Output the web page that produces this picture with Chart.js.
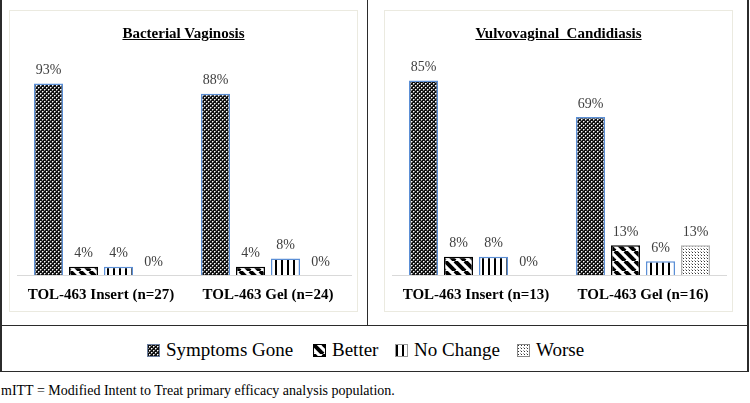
<!DOCTYPE html>
<html>
<head>
<meta charset="utf-8">
<script src="https://cdn.jsdelivr.net/npm/chart.js@4"></script>
<style>
  body { margin: 0; width: 750px; height: 403px; background: #fff; position: relative; overflow: hidden;
         font-family: "Liberation Serif", "Times New Roman", serif; }
  .line { position: absolute; background: #2b2b2b; }
  .panel { position: absolute; top: 10px; width: 347px; height: 300px; border: 1px solid #ebeae0; }
  .panel canvas { position: absolute; left: 0; top: 0; }
  .title { position: absolute; top: 14px; width: 100%; text-align: center; font-weight: bold;
           font-size: 15px; text-decoration: underline; color: #000; }
  .item { position: absolute; top: 339px; font-size: 19px; color: #000; white-space: nowrap;
          font-family: "Liberation Serif", "Times New Roman", serif; }
  .item canvas { vertical-align: -1px; margin-right: 6px; }
  #note { position: absolute; left: 1px; top: 383px; font-size: 14px; color: #000; }
</style>
</head>
<body>
<div class="line" style="left:0;top:0;width:2px;height:372px"></div>
<div class="line" style="left:747px;top:0;width:2px;height:372px"></div>
<div class="line" style="left:367px;top:0;width:1px;height:325px"></div>
<div class="line" style="left:0;top:325px;width:749px;height:1px"></div>
<div class="line" style="left:0;top:371px;width:749px;height:1px"></div>

<div class="panel" style="left:9px"><canvas id="bv" width="348" height="320"></canvas><div class="title">Bacterial Vaginosis</div></div>
<div class="panel" style="left:384px"><canvas id="vvc" width="348" height="320"></canvas><div class="title">Vulvovaginal&nbsp; Candidiasis</div></div>

<div id="note">mITT = Modified Intent to Treat primary efficacy analysis population.</div>

<script>
// Data
const seriesNames = ['Symptoms Gone', 'Better', 'No Change', 'Worse'];
const bvCategories = ['TOL-463 Insert (n=27)', 'TOL-463 Gel (n=24)'];
const vvcCategories = ['TOL-463 Insert (n=13)', 'TOL-463 Gel (n=16)'];
const bvGone = [93, 88];
const bvBetter = [4, 4];
const bvNoChange = [4, 8];
const bvWorse = [0, 0];
const vvcGone = [85, 69];
const vvcBetter = [8, 13];
const vvcNoChange = [8, 6];
const vvcWorse = [0, 13];

const serif = '"Liberation Serif", "Times New Roman", serif';

// Fill patterns like the Excel ones
function makePattern(kind) {
    const c = document.createElement('canvas');
    const g = c.getContext('2d');
    if (kind === 0) {
        c.width = 4; c.height = 4;
        g.fillStyle = '#111'; g.fillRect(0, 0, 4, 4);
        g.fillStyle = '#fff';
        g.fillRect(0, 0, 1, 1); g.fillRect(2, 2, 1, 1);
        g.fillStyle = '#888';
        g.fillRect(1, 0, 1, 1); g.fillRect(0, 1, 1, 1);
        g.fillRect(3, 2, 1, 1); g.fillRect(2, 3, 1, 1);
    } else if (kind === 1) {
        c.width = 10; c.height = 10;
        g.fillStyle = '#fff'; g.fillRect(0, 0, 10, 10);
        g.strokeStyle = '#000'; g.lineWidth = 4;
        [-10, 0, 10].forEach(o => {
            g.beginPath(); g.moveTo(o, 0); g.lineTo(o + 10, 10); g.stroke();
        });
    } else if (kind === 2) {
        c.width = 6; c.height = 2;
        g.fillStyle = '#fff'; g.fillRect(0, 0, 6, 2);
        g.fillStyle = '#000'; g.fillRect(1, 0, 2, 2);
    } else {
        c.width = 3; c.height = 3;
        g.fillStyle = '#fff'; g.fillRect(0, 0, 3, 3);
        g.fillStyle = '#333'; g.fillRect(1, 1, 1, 1);
        g.fillStyle = '#aaa'; g.fillRect(0, 0, 1, 1);
    }
    return document.createElement('canvas').getContext('2d').createPattern(c, 'repeat');
}

const fills = [0, 1, 2, 3].map(makePattern);
const borders = ['#5b8fd6', '#000', '#5b8fd6', '#b0b0b0'];

// value labels over the bars
const valueLabels = {
    id: 'valueLabels',
    afterDatasetsDraw(chart) {
        const ctx = chart.ctx;
        ctx.save();
        ctx.font = '14px ' + serif;
        ctx.fillStyle = '#404040';
        ctx.textAlign = 'center';
        ctx.textBaseline = 'middle';
        chart.data.datasets.forEach((ds, i) => {
            chart.getDatasetMeta(i).data.forEach((bar, j) => {
                ctx.fillText(ds.data[j] + '%', bar.x, bar.y - 13);
            });
        });
        ctx.restore();
    }
};

function drawChart(id, categories, values, yMax) {
    new Chart(document.getElementById(id), {
        type: 'bar',
        data: {
            labels: categories,
            datasets: values.map((v, i) => ({
                label: seriesNames[i],
                data: v,
                backgroundColor: fills[i],
                borderColor: borders[i],
                borderWidth: 1.5,
                categoryPercentage: 0.838,
                barPercentage: 0.83
            }))
        },
        options: {
            responsive: false,
            animation: false,
            layout: { padding: { top: 58, left: 7.5, right: 6.5, bottom: 16 } },
            plugins: { legend: { display: false }, tooltip: { enabled: false } },
            scales: {
                x: {
                    grid: { display: false, drawTicks: false },
                    border: { color: '#d9d9d9', width: 1 },
                    ticks: { color: '#000', padding: 11, font: { family: serif, size: 15, weight: 'bold' } }
                },
                y: { display: false, min: 0, max: yMax }
            }
        },
        plugins: [valueLabels]
    });
}

// legend row, one item per series
const legendLeft = [147, 313, 395, 517];
const swatchBorders = ['#6c7fa0', '#000', '#999', '#888'];
seriesNames.forEach((name, i) => {
    const item = document.createElement('div');
    item.className = 'item';
    item.style.left = legendLeft[i] + 'px';
    const sw = document.createElement('canvas');
    sw.width = 13; sw.height = 13;
    const g = sw.getContext('2d');
    g.fillStyle = fills[i]; g.fillRect(0, 0, 13, 13);
    g.strokeStyle = swatchBorders[i]; g.lineWidth = 1; g.strokeRect(0.5, 0.5, 12, 12);
    item.appendChild(sw);
    item.appendChild(document.createTextNode(name));
    document.body.appendChild(item);
});

document.fonts.load('14px "Liberation Serif"').then(() => {
    drawChart('bv', bvCategories, [bvGone, bvBetter, bvNoChange, bvWorse], 100);
    drawChart('vvc', vvcCategories, [vvcGone, vvcBetter, vvcNoChange, vvcWorse], 90);
});
</script>
</body>
</html>
